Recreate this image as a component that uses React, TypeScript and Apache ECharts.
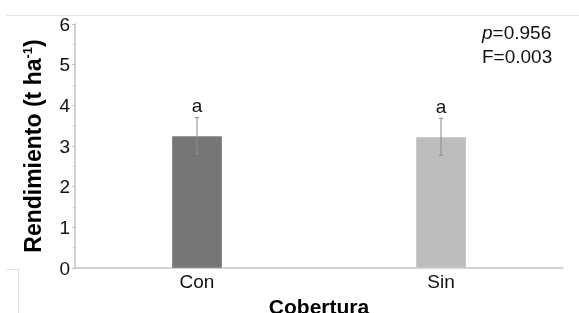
import React, { useEffect, useRef } from "react";
import * as echarts from "echarts";

const categories = ["Con", "Sin"];
const means = [3.24, 3.22];
const errLow = [2.81, 2.77];
const errHigh = [3.70, 3.68];
const letters = ["a", "a"];
const barColors = ["#767676", "#bdbdbd"];
const yTicks = [0, 1, 2, 3, 4, 5, 6];
const statP = "0.956";
const statF = "0.003";

const FONT = "Liberation Sans, Arial, sans-serif";

export default function App() {
  const ref = useRef<HTMLDivElement>(null);
  useEffect(() => {
    if (!ref.current) return;
    const chart = echarts.init(ref.current, undefined, { renderer: "svg" });
    chart.setOption({
      animation: false,
      textStyle: { fontFamily: FONT },
      grid: { left: 75, right: 16, top: 24, bottom: 45, containLabel: false, outerBoundsMode: "none" },
      xAxis: {
        type: "category",
        data: categories,
        axisLine: { lineStyle: { color: "#c4c4c4", width: 1.5 } },
        axisTick: { show: false },
        axisLabel: { color: "#111", fontSize: 19, margin: 4, fontFamily: FONT },
        name: "Cobertura",
        nameLocation: "middle",
        nameGap: 28,
        nameTextStyle: { color: "#000", fontSize: 21, fontWeight: "bold", fontFamily: FONT },
      },
      yAxis: {
        type: "value",
        min: yTicks[0],
        max: yTicks[yTicks.length - 1],
        interval: 1,
        splitLine: { show: false },
        axisLine: { show: true, lineStyle: { color: "#c4c4c4", width: 1.5 } },
        axisTick: { show: true, length: 3, lineStyle: { color: "#c4c4c4" } },
        minorTick: { show: true, splitNumber: 2, length: 2, lineStyle: { color: "#c4c4c4" } },
        axisLabel: { color: "#111", fontSize: 19, margin: 5, fontFamily: FONT },
        name: "{b|Rendimiento (t ha}{s|-1}{b|)}",
        nameLocation: "middle",
        nameGap: 31,
        nameTextStyle: {
          rich: {
            b: { fontSize: 23, fontWeight: "bold", color: "#000", fontFamily: FONT },
            s: { fontSize: 13, fontWeight: "bold", color: "#000", fontFamily: FONT, padding: [0, 0, 10, 0] },
          },
        },
      },
      series: [
        {
          type: "bar",
          barWidth: 50,
          data: means.map((v, i) => ({
            value: v,
            itemStyle: { color: barColors[i], borderColor: i === 0 ? "#8a8a8a" : "#cacaca", borderWidth: 1 },
          })),
        },
        {
          type: "custom",
          data: categories.map((c, i) => [i, errLow[i], errHigh[i]]),
          z: 5,
          renderItem: (params: any, api: any) => {
            const idx = api.value(0);
            const lo = api.coord([idx, api.value(1)]);
            const hi = api.coord([idx, api.value(2)]);
            const x = hi[0];
            const cap = 2;
            const st = { stroke: "#8c8c8c", lineWidth: 1 };
            return {
              type: "group",
              children: [
                { type: "line", shape: { x1: x, y1: hi[1], x2: x, y2: lo[1] }, style: st },
                { type: "line", shape: { x1: x - cap, y1: hi[1], x2: x + cap, y2: hi[1] }, style: st },
                { type: "line", shape: { x1: x - cap, y1: lo[1], x2: x + cap, y2: lo[1] }, style: st },
                {
                  type: "text",
                  x: x,
                  y: hi[1] - 12,
                  style: {
                    text: letters[params.dataIndex],
                    fontSize: 19,
                    fill: "#111",
                    fontFamily: FONT,
                    align: "center",
                    verticalAlign: "middle",
                  },
                },
              ],
            };
          },
        },
      ],
      graphic: [
        { type: "line", shape: { x1: 6, y1: 15.5, x2: 579, y2: 15.5 }, style: { stroke: "#e4e4e4", lineWidth: 1 } },
        { type: "line", shape: { x1: 6, y1: 269.5, x2: 18.5, y2: 269.5 }, style: { stroke: "#e0e0e0", lineWidth: 1 } },
        { type: "line", shape: { x1: 18.5, y1: 269.5, x2: 18.5, y2: 313 }, style: { stroke: "#e0e0e0", lineWidth: 1 } },
        {
          type: "text",
          x: 482,
          y: 32,
          style: {
            rich: {
              i: { fontStyle: "italic", fontSize: 19, fill: "#111", fontFamily: FONT },
              n: { fontSize: 19, fill: "#111", fontFamily: FONT },
            },
            text: "{i|p}{n|=" + statP + "}",
            verticalAlign: "middle",
          },
        },
        {
          type: "text",
          x: 482,
          y: 56,
          style: { text: "F=" + statF, fontSize: 19, fill: "#111", fontFamily: FONT, verticalAlign: "middle" },
        },
      ],
    });
    return () => chart.dispose();
  }, []);
  return <div ref={ref} style={{ position: "fixed", left: 0, top: 0, width: 579, height: 313 }} />;
}
